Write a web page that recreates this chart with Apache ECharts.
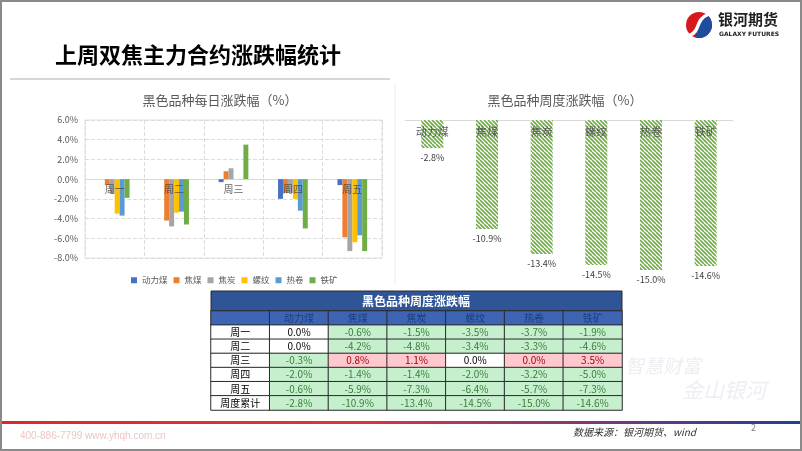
<!DOCTYPE html>
<html><head><meta charset="utf-8">
<script src="https://cdn.jsdelivr.net/npm/echarts@6/dist/echarts.min.js"></script>
<style>html,body{margin:0;padding:0;background:#fff}#c{width:802px;height:451px}</style>
</head><body><div id="c"></div>
<script>
// ---- data ----
const days = ['周一', '周二', '周三', '周四', '周五'];
const products = ['动力煤', '焦煤', '焦炭', '螺纹', '热卷', '铁矿'];
const thermalCoal = [0.0, 0.0, -0.3, -2.0, -0.6];
const cokingCoal = [-0.6, -4.2, 0.8, -1.4, -5.9];
const coke = [-1.5, -4.8, 1.1, -1.4, -7.3];
const rebar = [-3.5, -3.4, 0.0, -2.0, -6.4];
const hotCoil = [-3.7, -3.3, 0.02, -3.2, -5.7];
const ironOre = [-1.9, -4.6, 3.5, -5.0, -7.3];
const weeklyTotal = [-2.8, -10.9, -13.4, -14.5, -15.0, -14.6];
const tableRowLabels = ['', '周一', '周二', '周三', '周四', '周五', '周度累计'];
const dailyTicks = { min: -8, max: 6, step: 2 };

const FONT = '"Noto Sans CJK SC", "Noto Sans", sans-serif';
const colors = ['#4472C4', '#ED7D31', '#A5A5A5', '#FFC000', '#5B9BD5', '#70AD47'];
const dailySeries = [thermalCoal, cokingCoal, coke, rebar, hotCoil, ironOre];

// hatch pattern
const pat = document.createElement('canvas');
pat.width = 8; pat.height = 8;
const pc = pat.getContext('2d');
pc.fillStyle = '#ffffff'; pc.fillRect(0, 0, 8, 8);
pc.strokeStyle = '#70AD47'; pc.lineWidth = 1.6;
for (let i = -8; i <= 16; i += 4) { pc.beginPath(); pc.moveTo(i, 0); pc.lineTo(i + 8, 8); pc.stroke(); }

// table cells
const cells = [];
for (let r = 0; r < tableRowLabels.length; r++) {
  for (let c = 0; c < products.length + 1; c++) {
    let txt = '', bg = '#ffffff', fg = '#000000', v = 0;
    if (r === 0) {
      bg = '#3D65B4'; fg = '#1E3F7E'; txt = c === 0 ? '' : products[c - 1];
    } else if (c === 0) {
      txt = tableRowLabels[r];
    } else {
      v = r <= days.length ? dailySeries[c - 1][r - 1] : weeklyTotal[c - 1];
      txt = v.toFixed(1) + '%';
      if (v < 0) { bg = '#C6EFCE'; fg = '#3B7D3B'; }
      else if (v > 0) { bg = '#FFC7CE'; fg = '#9C0006'; }
    }
    cells.push({ value: [c, r, v], txt: txt, itemStyle: { color: bg }, label: { color: fg } });
  }
}

const chart = echarts.init(document.getElementById('c'));
const series = dailySeries.map((d, i) => ({
  name: products[i], type: 'bar', xAxisIndex: 0, yAxisIndex: 0,
  data: d, barGap: '0%', barCategoryGap: '50%',
  itemStyle: { color: colors[i] }, emphasis: { disabled: true }
}));
// category labels sitting on the zero line
series.push({
  type: 'scatter', xAxisIndex: 0, yAxisIndex: 0, symbolSize: 0, silent: true, z: 10,
  data: days.map(d => [d, 0]),
  label: { show: true, position: 'bottom', distance: 5, fontSize: 10, color: '#404040', fontFamily: FONT,
    formatter: p => p.value[0] }
});
series.push({
  name: '周度累计', type: 'bar', xAxisIndex: 1, yAxisIndex: 1, data: weeklyTotal,
  barWidth: 22, itemStyle: { color: { image: pat, repeat: 'repeat' } },
  label: { show: true, position: 'bottom', distance: 5, fontSize: 9, color: '#404040', fontFamily: FONT,
    formatter: p => p.value.toFixed(1) + '%' },
  emphasis: { disabled: true }
});
series.push({
  type: 'scatter', xAxisIndex: 1, yAxisIndex: 1, symbolSize: 0, silent: true, z: 10,
  data: products.map(d => [d, 0]),
  label: { show: true, position: 'bottom', distance: 6, fontSize: 11, color: '#404040', fontFamily: FONT,
    formatter: p => p.value[0] }
});
series.push({
  type: 'heatmap', xAxisIndex: 2, yAxisIndex: 2, data: cells,
  itemStyle: { borderColor: '#2a2a2a', borderWidth: 1 },
  label: { show: true, fontSize: 10, fontFamily: FONT, formatter: p => p.data.txt },
  emphasis: { disabled: true }
});

chart.setOption({
  animation: false,
  textStyle: { fontFamily: FONT },
  legend: {
    data: products, left: 126, top: 271, itemWidth: 6, itemHeight: 6, itemGap: 6, icon: 'rect',
    textStyle: { fontSize: 8.5, color: '#595959', fontFamily: FONT }
  },
  grid: [
    { left: 85, top: 120, width: 297, height: 138, show: true, borderColor: '#e3e3e3', borderWidth: 1 },
    { left: 405, top: 120, width: 328, height: 150 },
    { left: 211, top: 311, width: 411, height: 99 }
  ],
  xAxis: [
    { gridIndex: 0, type: 'category', data: days, axisLine: { onZero: true, lineStyle: { color: '#d9d9d9' } },
      axisTick: { show: false }, axisLabel: { show: false },
      splitLine: { show: true, lineStyle: { color: '#dcdcdc', type: 'dashed' } } },
    { gridIndex: 1, type: 'category', data: products, position: 'top', axisLine: { lineStyle: { color: '#d9d9d9' } },
      axisTick: { show: false }, axisLabel: { show: false } },
    { gridIndex: 2, type: 'category', data: [0, 1, 2, 3, 4, 5, 6], show: false }
  ],
  yAxis: [
    { gridIndex: 0, type: 'value', min: dailyTicks.min, max: dailyTicks.max, interval: dailyTicks.step,
      axisLabel: { fontSize: 9, color: '#595959', margin: 7, formatter: v => v.toFixed(1) + '%' },
      axisLine: { show: false }, axisTick: { show: false },
      splitLine: { lineStyle: { color: '#dcdcdc', type: 'dashed' } } },
    { gridIndex: 1, type: 'value', min: -15, max: 0, show: false, splitLine: { show: false } },
    { gridIndex: 2, type: 'category', data: tableRowLabels.map((_, i) => i), inverse: true, show: false }
  ],
  series: series,
  graphic: [
    { type: 'rect', shape: { x: 1, y: 1, width: 800, height: 449 }, style: { fill: 'none', stroke: '#8a8a8a', lineWidth: 2 }, z: 100 },
    { type: 'text', left: 55, top: 44, style: { text: '上周双焦主力合约涨跌幅统计', fontSize: 22, fontWeight: 'bold', fill: '#000', fontFamily: FONT } },
    { type: 'line', shape: { x1: 10, y1: 79, x2: 390, y2: 79 }, style: { stroke: '#c8c8c8', lineWidth: 1.5 } },
    { type: 'line', shape: { x1: 395, y1: 84, x2: 395, y2: 285 }, style: { stroke: '#ececec', lineWidth: 1 } },
    // logo
    { type: 'circle', shape: { cx: 699, cy: 25, r: 13 }, style: { fill: '#d7191f' } },
    { type: 'sector', shape: { cx: 699, cy: 25, r: 13, r0: 0, startAngle: -Math.PI / 3, endAngle: Math.PI * 0.6 }, style: { fill: '#1f4d9e' } },
    { type: 'bezierCurve', shape: { x1: 689, y1: 36, cpx1: 702, cpy1: 30, cpx2: 694, cpy2: 20, x2: 709, y2: 14 }, style: { stroke: '#fff', lineWidth: 3.5, fill: 'none' } },
    { type: 'text', left: 718, top: 12, style: { text: '银河期货', fontSize: 15, fontWeight: 'bold', fill: '#222', fontFamily: FONT } },
    { type: 'text', left: 719, top: 31, style: { text: 'GALAXY FUTURES', fontSize: 6, fontWeight: 'bold', fill: '#222', fontFamily: '"DejaVu Sans", sans-serif' } },
    // chart titles
    { type: 'text', x: 220, y: 100, style: { text: '黑色品种每日涨跌幅（%）', fontSize: 13, fill: '#595959', align: 'center', verticalAlign: 'middle', fontFamily: FONT } },
    { type: 'text', x: 565, y: 100, style: { text: '黑色品种周度涨跌幅（%）', fontSize: 13, fill: '#595959', align: 'center', verticalAlign: 'middle', fontFamily: FONT } },
    // table title
    { type: 'rect', shape: { x: 211, y: 291, width: 411, height: 20 }, style: { fill: '#2F5597', stroke: '#2a2a2a', lineWidth: 1 } },
    { type: 'text', x: 416, y: 301, style: { text: '黑色品种周度涨跌幅', fontSize: 12, fontWeight: 'bold', fill: '#fff', align: 'center', verticalAlign: 'middle', fontFamily: FONT } },
    // watermark
    { type: 'text', x: 625, y: 356, style: { text: '智慧财富', fontSize: 19, fontStyle: 'italic', fill: '#eceef3', fontFamily: FONT } },
    { type: 'text', x: 682, y: 380, style: { text: '金山银河', fontSize: 21, fontStyle: 'italic', fill: '#eceef3', fontFamily: FONT } },
    // footer
    { type: 'rect', shape: { x: 0, y: 421, width: 802, height: 3 }, style: { fill: new echarts.graphic.LinearGradient(0, 0, 1, 0, [
      { offset: 0, color: '#e0262b' }, { offset: 0.45, color: '#d93440' }, { offset: 0.75, color: '#7a3a78' }, { offset: 1, color: '#1f3f96' }]) } },
    { type: 'text', left: 20, top: 431, style: { text: '400-886-7799 www.yhqh.com.cn', fontSize: 10, fill: '#ebc7c7', fontFamily: '"Liberation Sans", sans-serif' } },
    { type: 'text', left: 573, top: 427, style: { text: '数据来源：银河期货、wind', fontSize: 10, fontStyle: 'italic', fill: '#333', fontFamily: FONT } },
    { type: 'text', left: 751, top: 423, style: { text: '2', fontSize: 9, fill: '#808080', fontFamily: FONT } }
  ]
});
</script></body></html>
